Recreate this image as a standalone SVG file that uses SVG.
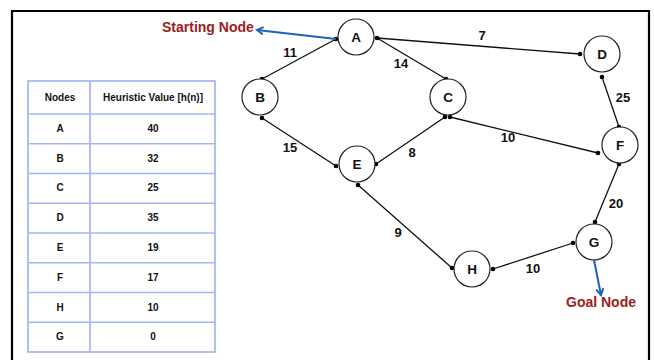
<svg xmlns="http://www.w3.org/2000/svg" width="654" height="360" viewBox="0 0 654 360">
<style>
.frame{fill:none;stroke:#000;stroke-width:2.2}
.tl{stroke:#a3b5f5;stroke-width:1.7;fill:none}
.tt{font-family:"Liberation Sans",Arial,sans-serif;font-weight:bold;font-size:10px;fill:#111;text-anchor:middle}
.nc{fill:#fff;stroke:#222;stroke-width:1.2}
.nl{font-family:"Liberation Sans",Arial,sans-serif;font-weight:bold;font-size:13.5px;fill:#111;text-anchor:middle}
.e{stroke:#111;stroke-width:1.3;fill:none}
.dot{fill:#000}
.el{font-family:"Liberation Sans",Arial,sans-serif;font-weight:bold;font-size:13px;fill:#111;text-anchor:middle}
.red{font-family:"Liberation Sans",Arial,sans-serif;font-weight:bold;font-size:14px;fill:#9b1d1d}
.blue{stroke:#1f5ec2;stroke-width:2;fill:none}
</style>
<defs>
<marker id="ah" viewBox="0 0 10 10" refX="8" refY="5" markerWidth="9" markerHeight="9" orient="auto" markerUnits="userSpaceOnUse">
<path d="M1,1 L8,5 L1,9" fill="none" stroke="#1f5ec2" stroke-width="2.2"/>
</marker>
</defs>
<rect width="654" height="360" fill="#fff"/>
<path class="frame" d="M12,362 V11 H649 V362"/>

<g id="table">
<rect class="tl" x="28" y="81" width="187" height="271"/>
<line class="tl" x1="90" y1="81" x2="90" y2="352"/>
<line class="tl" x1="28" y1="114" x2="215" y2="114"/>
<line class="tl" x1="28" y1="143.75" x2="215" y2="143.75"/>
<line class="tl" x1="28" y1="173.5" x2="215" y2="173.5"/>
<line class="tl" x1="28" y1="203.25" x2="215" y2="203.25"/>
<line class="tl" x1="28" y1="233" x2="215" y2="233"/>
<line class="tl" x1="28" y1="262.75" x2="215" y2="262.75"/>
<line class="tl" x1="28" y1="292.5" x2="215" y2="292.5"/>
<line class="tl" x1="28" y1="322.25" x2="215" y2="322.25"/>
<text class="tt" x="60" y="101">Nodes</text>
<text class="tt" x="153" y="101">Heuristic Value [h(n)]</text>
<text class="tt" x="60" y="132">A</text><text class="tt" x="153" y="132">40</text>
<text class="tt" x="60" y="162">B</text><text class="tt" x="153" y="162">32</text>
<text class="tt" x="60" y="191">C</text><text class="tt" x="153" y="191">25</text>
<text class="tt" x="60" y="221">D</text><text class="tt" x="153" y="221">35</text>
<text class="tt" x="60" y="251">E</text><text class="tt" x="153" y="251">19</text>
<text class="tt" x="60" y="281">F</text><text class="tt" x="153" y="281">17</text>
<text class="tt" x="60" y="311">H</text><text class="tt" x="153" y="311">10</text>
<text class="tt" x="60" y="340">G</text><text class="tt" x="153" y="340">0</text>
</g>

<g id="connectors">
<line class="e" x1="336" y1="39" x2="262" y2="79"/>
<line class="e" x1="377" y1="38" x2="446" y2="79"/>
<line class="e" x1="377" y1="38" x2="580" y2="54"/>
<line class="e" x1="262" y1="118" x2="336" y2="166"/>
<line class="e" x1="445" y1="117" x2="376" y2="164"/>
<line class="e" x1="450" y1="117" x2="598" y2="153"/>
<line class="e" x1="602" y1="77" x2="619" y2="127"/>
<line class="e" x1="619" y1="164" x2="595" y2="222"/>
<line class="e" x1="358" y1="185" x2="452" y2="268"/>
<line class="e" x1="493" y1="269" x2="573" y2="243"/>
<g class="dot">
<circle cx="336" cy="39" r="2.3"/><circle cx="262" cy="79" r="2.3"/>
<circle cx="377" cy="38" r="2.3"/><circle cx="446" cy="79" r="2.3"/>
<circle cx="580" cy="54" r="2.3"/>
<circle cx="262" cy="118" r="2.3"/><circle cx="336" cy="166" r="2.3"/>
<circle cx="445" cy="117" r="2.3"/><circle cx="376" cy="164" r="2.3"/>
<circle cx="450" cy="117" r="2.3"/><circle cx="598" cy="153" r="2.3"/>
<circle cx="602" cy="77" r="2.3"/><circle cx="619" cy="127" r="2.3"/>
<circle cx="619" cy="164" r="2.3"/><circle cx="595" cy="222" r="2.3"/>
<circle cx="358" cy="185" r="2.3"/><circle cx="452" cy="268" r="2.3"/>
<circle cx="493" cy="269" r="2.3"/><circle cx="573" cy="243" r="2.3"/>
</g>
<text class="el" x="290" y="57">11</text>
<text class="el" x="401" y="68">14</text>
<text class="el" x="482" y="40">7</text>
<text class="el" x="290" y="152">15</text>
<text class="el" x="412" y="157">8</text>
<text class="el" x="508" y="142">10</text>
<text class="el" x="623" y="102">25</text>
<text class="el" x="616" y="208">20</text>
<text class="el" x="398" y="237">9</text>
<text class="el" x="533" y="273">10</text>
<line class="blue" x1="336" y1="39" x2="257" y2="30" marker-end="url(#ah)"/>
<line class="blue" x1="594" y1="260" x2="601" y2="295" marker-end="url(#ah)"/>
</g>

<text class="red" x="162" y="32">Starting Node</text>
<text class="red" x="566" y="307">Goal Node</text>

<g id="node-A"><circle class="nc" cx="356" cy="37" r="18"/><text class="nl" x="356" y="42">A</text></g>
<g id="node-B"><circle class="nc" cx="260" cy="97" r="18"/><text class="nl" x="260" y="102">B</text></g>
<g id="node-C"><circle class="nc" cx="448" cy="97" r="18"/><text class="nl" x="448" y="102">C</text></g>
<g id="node-D"><circle class="nc" cx="602" cy="54" r="18"/><text class="nl" x="602" y="59">D</text></g>
<g id="node-E"><circle class="nc" cx="357" cy="164" r="18"/><text class="nl" x="357" y="169">E</text></g>
<g id="node-F"><circle class="nc" cx="620" cy="145" r="18"/><text class="nl" x="620" y="150">F</text></g>
<g id="node-G"><circle class="nc" cx="594" cy="242" r="18"/><text class="nl" x="594" y="247">G</text></g>
<g id="node-H"><circle class="nc" cx="472" cy="269" r="18"/><text class="nl" x="472" y="274">H</text></g>
</svg>
